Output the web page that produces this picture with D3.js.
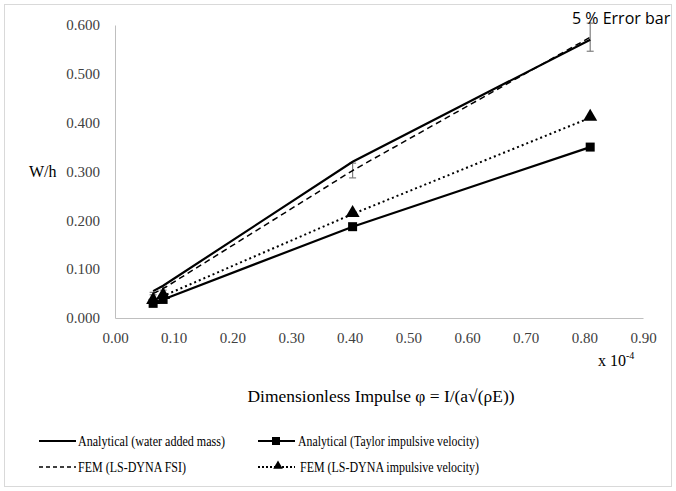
<!DOCTYPE html>
<html><head><meta charset="utf-8">
<script src="https://cdn.jsdelivr.net/npm/d3@7"></script>
<style>body{margin:0;background:#fff}svg{display:block}</style>
</head><body>
<script>
const xTicks = [0,0.1,0.2,0.3,0.4,0.5,0.6,0.7,0.8,0.9];
const yTicks = [0,0.1,0.2,0.3,0.4,0.5,0.6];
const phi = [0.065, 0.082, 0.405, 0.81];
const waterAdded = [0.055, 0.066, 0.320, 0.570];
const taylor = [0.030, 0.038, 0.187, 0.350];
const femFSI = [0.050, 0.060, 0.302, 0.575];
const femImpulse = [0.035, 0.045, 0.213, 0.410];
const seriesNames = ["Analytical (water added mass)","Analytical (Taylor impulsive velocity)","FEM (LS-DYNA FSI)","FEM (LS-DYNA impulsive velocity)"];

const SERIF='"Liberation Serif"';
const SANS='"Open Sans"';
const W=676,H=491;
const svg=d3.select("body").append("svg").attr("width",W).attr("height",H);
svg.append("rect").attr("x",4.5).attr("y",4.5).attr("width",667).attr("height",482).attr("fill","#fff").attr("stroke","#d9d9d9");
const x=d3.scaleLinear().domain([0,0.9]).range([115,643]);
const y=d3.scaleLinear().domain([0,0.6]).range([318,25]);

// axes
const xa=svg.append("g").attr("transform","translate(0,318)").call(d3.axisBottom(x).tickValues(xTicks).tickFormat(d3.format(".2f")).tickSize(0).tickPadding(14));
const ya=svg.append("g").attr("transform","translate(115,0)").call(d3.axisLeft(y).tickValues(yTicks).tickFormat(d3.format(".3f")).tickSize(0).tickPadding(15));
[xa,ya].forEach(a=>{a.attr("font-family",null).attr("font-size",null);a.select(".domain").attr("stroke","#bfbfbf").attr("stroke-width",1);a.selectAll("text").style("font-family",SERIF).style("font-size","15px").attr("fill","#404040");});

const line=d3.line().x((d,i)=>x(phi[i])).y(d=>y(d));
const g=svg.append("g");
// error bars on FEM FSI
const eb=g.append("g").attr("stroke","#7f7f7f").attr("stroke-width",1.2);
phi.forEach((p,i)=>{
  const v=femFSI[i],lo=v*0.95,hi=v*1.05,cx=x(p);
  eb.append("line").attr("x1",cx).attr("x2",cx).attr("y1",y(lo)).attr("y2",y(hi));
  [lo,hi].forEach(e=>eb.append("line").attr("x1",cx-3.5).attr("x2",cx+3.5).attr("y1",y(e)).attr("y2",y(e)));
});
g.append("path").datum(waterAdded).attr("d",line).attr("fill","none").attr("stroke","#000").attr("stroke-width",2.2);
g.append("path").datum(taylor).attr("d",line).attr("fill","none").attr("stroke","#000").attr("stroke-width",2.2);
g.append("path").datum(femFSI).attr("d",line).attr("fill","none").attr("stroke","#000").attr("stroke-width",1.5).attr("stroke-dasharray","6,4");
g.append("path").datum(femImpulse).attr("d",line).attr("fill","none").attr("stroke","#000").attr("stroke-width",2).attr("stroke-dasharray","2,3");
g.selectAll(".sq").data(taylor).join("rect").attr("x",(d,i)=>x(phi[i])-4.5).attr("y",d=>y(d)-4.5).attr("width",9).attr("height",9).attr("fill","#000");
const tri=d3.symbol().type(d3.symbolTriangle).size(85);
g.selectAll(".tr").data(femImpulse).join("path").attr("d",tri).attr("transform",(d,i)=>`translate(${x(phi[i])},${y(d)-1})`).attr("fill","#000");

// pointer line for annotation
svg.append("line").attr("x1",x(0.81)).attr("x2",x(0.81)).attr("y1",22).attr("y2",y(0.575*1.05)).attr("stroke","#7f7f7f").attr("stroke-width",1.2);
svg.append("text").attr("x",572).attr("y",24).style("font-family",SANS).style("font-size","16px").attr("fill","#000").text("5 % Error bar");

// titles
svg.append("text").attr("x",29).attr("y",177).style("font-family",SERIF).style("font-size","16px").attr("fill","#000").text("W/h");
const xt=svg.append("text").attr("x",598).attr("y",366).style("font-family",SERIF).style("font-size","16px").attr("fill","#000");
xt.append("tspan").text("x 10");
xt.append("tspan").attr("dy",-7).style("font-size","10px").text("-4");
svg.append("text").attr("x",381).attr("y",402).attr("text-anchor","middle").attr("textLength",267).attr("lengthAdjust","spacingAndGlyphs").style("font-family",SERIF).style("font-size","17px").attr("fill","#000").text("Dimensionless Impulse \u03c6 = I/(a\u221a(\u03c1E))");

// legend
const leg=[{c:39,t:78,r:441,n:0,dash:null,w:2.2,m:null,len:147},{c:258,t:298,r:441,n:1,dash:null,w:2.2,m:"sq",len:181},{c:39,t:78,r:467,n:2,dash:"4,3",w:1.5,m:null,len:108},{c:258,t:300,r:467,n:3,dash:"2,2",w:1.8,m:"tri",len:179}];
leg.forEach(l=>{
  const ln=svg.append("line").attr("x1",l.c).attr("x2",l.c+37).attr("y1",l.r).attr("y2",l.r).attr("stroke","#000").attr("stroke-width",l.w);
  if(l.dash) ln.attr("stroke-dasharray",l.dash);
  if(l.m==="sq") svg.append("rect").attr("x",l.c+14).attr("y",l.r-4).attr("width",8).attr("height",8).attr("fill","#000");
  if(l.m==="tri") svg.append("path").attr("d",d3.symbol().type(d3.symbolTriangle).size(40)).attr("transform",`translate(${l.c+20},${l.r-1})`).attr("fill","#000");
  svg.append("text").attr("x",l.t).attr("y",l.r+5).attr("textLength",l.len).attr("lengthAdjust","spacingAndGlyphs").style("font-family",SERIF).style("font-size","15px").attr("fill","#000").text(seriesNames[l.n]);
});
</script>
</body></html>
